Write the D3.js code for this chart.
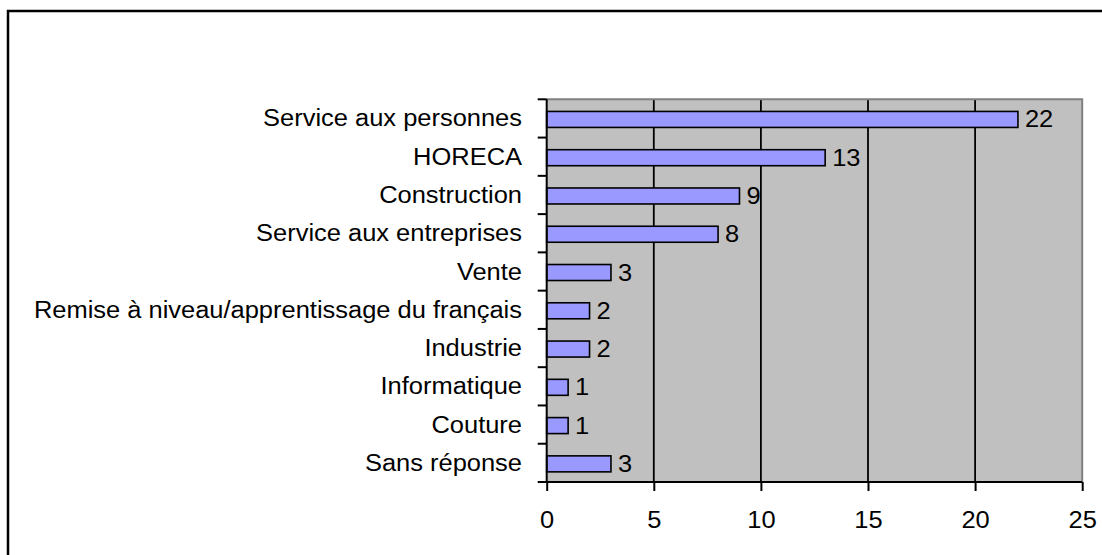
<!DOCTYPE html>
<html>
<head>
<meta charset="utf-8">
<script src="https://cdn.jsdelivr.net/npm/d3@7"></script>
<style>
  html, body { margin: 0; padding: 0; background: #fff; }
  svg { display: block; }
  text { font-family: Arial, "Liberation Sans", sans-serif; fill: #000; }
</style>
</head>
<body>
<svg id="chart" width="1102" height="555"></svg>
<script>
const categories = [
  "Service aux personnes",
  "HORECA",
  "Construction",
  "Service aux entreprises",
  "Vente",
  "Remise à niveau/apprentissage du français",
  "Industrie",
  "Informatique",
  "Couture",
  "Sans réponse"
];
const values = [22, 13, 9, 8, 3, 2, 2, 1, 1, 3];
const xTicks = [0, 5, 10, 15, 20, 25];

const svg = d3.select("#chart");
const pLeft = 546.7, pRight = 1082.2, pTop = 99.3, pBottom = 482;
const sx = 1.107; // horizontal text stretch seen in the reference
const fs = 23;

// outer frame
svg.append("rect")
  .attr("x", 8).attr("y", 11)
  .attr("width", 1300).attr("height", 1000)
  .attr("fill", "none").attr("stroke", "#000").attr("stroke-width", 2.5);

const x = d3.scaleLinear().domain([0, 25]).range([pLeft, pRight]);
const y = d3.scaleBand().domain(categories).range([pTop, pBottom]).paddingInner(0).paddingOuter(0);

// plot background
svg.append("rect")
  .attr("x", pLeft).attr("y", pTop)
  .attr("width", pRight - pLeft).attr("height", pBottom - pTop)
  .attr("fill", "#c0c0c0");

// gridlines
svg.append("g").selectAll("line")
  .data(xTicks.filter(d => d > 0 && d < 25))
  .join("line")
  .attr("x1", d => x(d)).attr("x2", d => x(d))
  .attr("y1", pTop).attr("y2", pBottom)
  .attr("stroke", "#000").attr("stroke-width", 1.8);

// plot border top/right (gray)
svg.append("path")
  .attr("d", `M${pLeft},${pTop}H${pRight}V${pBottom}`)
  .attr("fill", "none").attr("stroke", "#808080").attr("stroke-width", 2);

// bars
const barH = 16;
svg.append("g").selectAll("rect")
  .data(categories)
  .join("rect")
  .attr("x", x(0))
  .attr("y", (d) => y(d) + y.bandwidth() / 2 - barH / 2 + 1)
  .attr("width", (d, i) => x(values[i]) - x(0))
  .attr("height", barH)
  .attr("fill", "#9999ff")
  .attr("stroke", "#000").attr("stroke-width", 1.6);

// value labels
svg.append("g").selectAll("text")
  .data(categories)
  .join("text")
  .attr("transform", (d, i) => `translate(${x(values[i]) + 7},${y(d) + y.bandwidth() / 2 + 9}) scale(${sx},1)`)
  .attr("font-size", fs)
  .text((d, i) => values[i]);

// x axis
const xAxis = d3.axisBottom(x).tickValues(xTicks).tickSize(9).tickPadding(0).tickFormat(d3.format("d"));
const gx = svg.append("g").attr("transform", `translate(0,${pBottom})`).call(xAxis);
gx.select(".domain").attr("stroke", "#000").attr("stroke-width", 2).attr("d", `M${pLeft},0H${pRight}`);
gx.selectAll(".tick line").attr("stroke", "#000").attr("stroke-width", 2);
gx.selectAll(".tick text").remove();
gx.selectAll(".tick").append("text")
  .attr("transform", `translate(0,46) scale(${sx},1)`)
  .attr("text-anchor", "middle")
  .attr("font-size", fs)
  .text(d => d);

// y axis: ticks at band boundaries
const bounds = categories.map(c => y(c)).concat([pBottom]);
svg.append("line")
  .attr("x1", pLeft).attr("x2", pLeft).attr("y1", pTop).attr("y2", pBottom)
  .attr("stroke", "#000").attr("stroke-width", 2);
svg.append("g").selectAll("line")
  .data(bounds)
  .join("line")
  .attr("x1", pLeft - 9).attr("x2", pLeft)
  .attr("y1", d => d).attr("y2", d => d)
  .attr("stroke", "#000").attr("stroke-width", 2);

// category labels
svg.append("g").selectAll("text")
  .data(categories)
  .join("text")
  .attr("transform", d => `translate(522,${y(d) + y.bandwidth() / 2 + 8}) scale(${sx},1)`)
  .attr("text-anchor", "end")
  .attr("font-size", fs)
  .text(d => d);
</script>
</body>
</html>
